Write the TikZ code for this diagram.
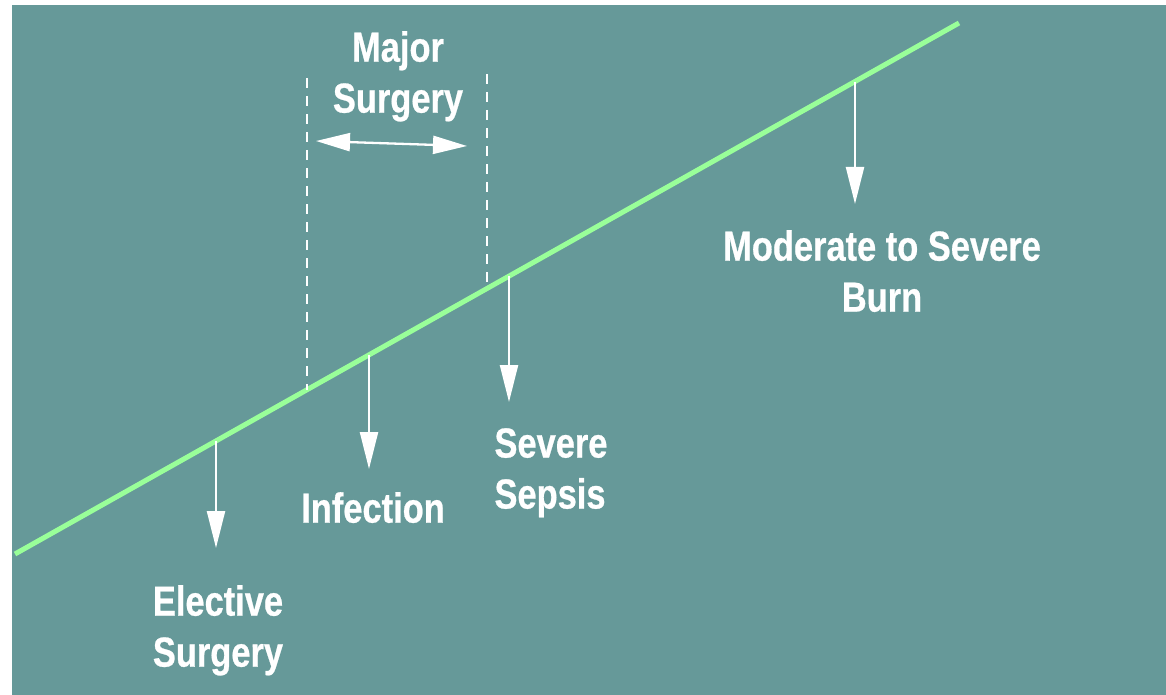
\documentclass[tikz,border=0pt]{standalone}
\usepackage{fontspec}
\usetikzlibrary{arrows.meta}
\newfontfamily\lblfont{Liberation Sans Bold}[FakeStretch=0.82, FakeBold=0.6]
\definecolor{bgteal}{HTML}{669999}
\definecolor{linegreen}{HTML}{99FF99}
\tikzset{
  lbl/.style={text=white, inner sep=0pt, font=\lblfont\fontsize{42}{51}\selectfont},
  downarrow/.style={draw=white, line width=2.3pt, -{Triangle[length=37pt,width=18pt]}},
  bothways/.style={draw=white, line width=2.3pt, {Triangle[length=34pt,width=18pt]}-{Triangle[length=34pt,width=18pt]}},
  dashline/.style={draw=white, line width=2pt, dash pattern=on 10pt off 8pt},
  trendline/.style={draw=linegreen, line width=5pt}
}
\begin{document}
\begin{tikzpicture}[x=1pt,y=-1pt]
\useasboundingbox (0,0) rectangle (1166,695);
\fill[white] (0,0) rectangle (1166,695);
\fill[bgteal] (12,5) rectangle (1166,695);
% trend line
\coordinate (L0) at (15,554);
\coordinate (L1) at (959,23);
\draw[trendline] (L0) -- (L1);
% points on the line
\coordinate (pE) at (216,441);
\coordinate (pI) at (369,355);
\coordinate (pS) at (509,276);
\coordinate (pB) at (855,82);
\coordinate (dL) at (307,390);
\coordinate (dR) at (487,287);
% arrow ends
\coordinate (tE) at (216,548);
\coordinate (tI) at (369,469);
\coordinate (tS) at (509,402);
\coordinate (tB) at (855,204);
% dashed bounds
\coordinate (dLtop) at (307,78);
\coordinate (dRtop) at (487,74);
\draw[dashline] (dLtop) -- (dL);
\draw[dashline] (dRtop) -- (dR);
% double arrow
\coordinate (mL) at (316,141);
\coordinate (mR) at (467,146);
\draw[bothways] (mL) -- (mR);
% down arrows
\draw[downarrow] (pE) -- (tE);
\draw[downarrow] (pI) -- (tI);
\draw[downarrow] (pS) -- (tS);
\draw[downarrow] (pB) -- (tB);
% labels
\node[lbl, anchor=north, align=center] (major) at (398,31) {Major\\Surgery};
\node[lbl, anchor=north, align=left] (elective) at (218,585) {Elective\\Surgery};
\node[lbl, anchor=north] (infection) at (373,492) {Infection};
\node[lbl, anchor=north, align=left] (sepsis) at (551,428) {Severe\\Sepsis};
\node[lbl, anchor=north, align=center] (burn) at (882,230) {Moderate to Severe\\Burn};
\end{tikzpicture}
\end{document}
